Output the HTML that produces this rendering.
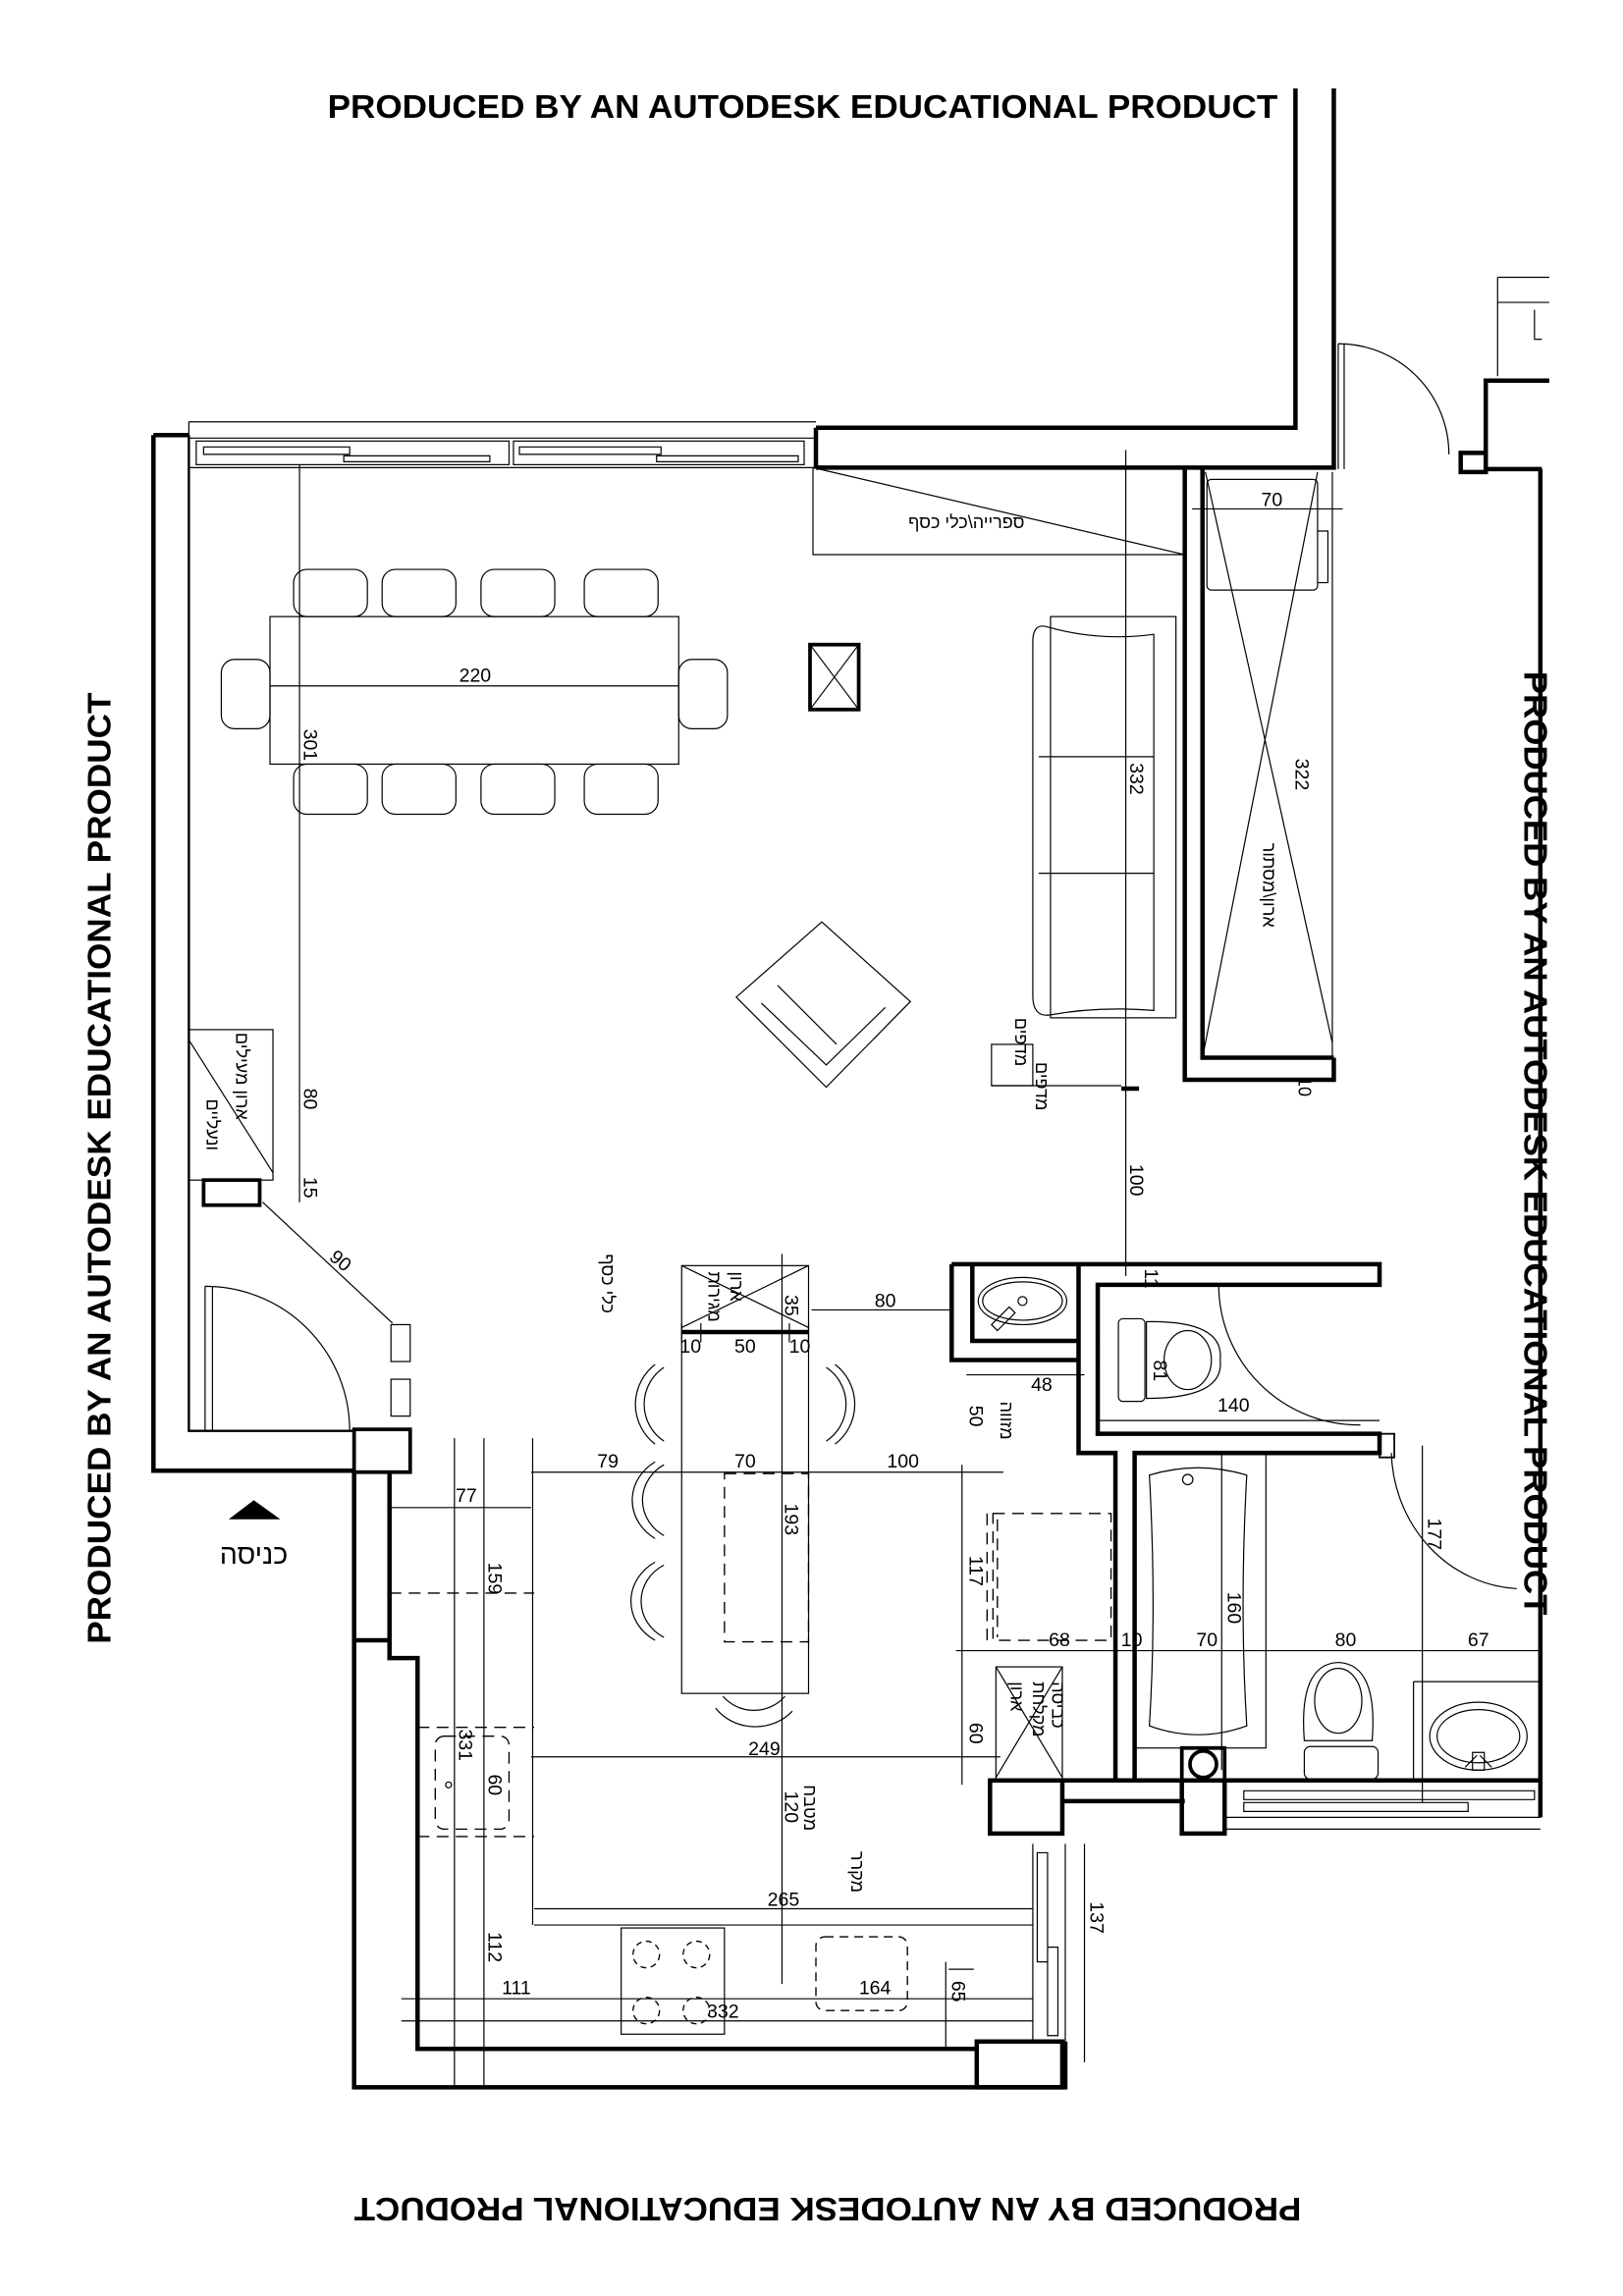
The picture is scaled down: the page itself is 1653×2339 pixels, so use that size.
<!DOCTYPE html>
<html><head><meta charset="utf-8"><style>
html,body{margin:0;padding:0;background:#fff}
svg{display:block}
text{font-family:"Liberation Sans","Noto Sans CJK JP",sans-serif;fill:#000}
.t{fill:none;stroke:#000;stroke-width:.8}
.k{fill:none;stroke:#000;stroke-width:3}
.m{fill:none;stroke:#000;stroke-width:1.6}
.d{fill:none;stroke:#000;stroke-width:.9;stroke-dasharray:8 5}
.n{font-size:13px}
.h{font-size:12px}
.b{font-size:22px;font-weight:bold}
</style></head><body>
<svg width="1653" height="2339" viewBox="0 0 1100 1556.5" xmlns="http://www.w3.org/2000/svg">
<rect width="1100" height="1556.5" fill="#fff"/>
<text class="b" x="222" y="80" textLength="644" lengthAdjust="spacingAndGlyphs">PRODUCED BY AN AUTODESK EDUCATIONAL PRODUCT</text>
<text class="b" transform="translate(75,792) rotate(-90)" text-anchor="middle" textLength="645" lengthAdjust="spacingAndGlyphs">PRODUCED BY AN AUTODESK EDUCATIONAL PRODUCT</text>
<text class="b" transform="translate(1033,775) rotate(90)" text-anchor="middle" textLength="640" lengthAdjust="spacingAndGlyphs">PRODUCED BY AN AUTODESK EDUCATIONAL PRODUCT</text>
<text class="b" transform="translate(561,1490) rotate(180)" text-anchor="middle" textLength="642" lengthAdjust="spacingAndGlyphs">PRODUCED BY AN AUTODESK EDUCATIONAL PRODUCT</text>

<path class="k" d="M553,290 H878 V60"/>
<path class="k" d="M553,317 H904 V60"/>
<path class="k" d="M553,290 V317"/>
<path class="t" d="M907,233 V318 M911,233 V318 M907,233 A75,75 0 0 1 982,308"/>
<path class="k" d="M1050,258 H1007 V318 H1045 M990,307 H1007 V320 H990 Z"/>
<path class="t" d="M1015,188 V255 M1015,188 H1050 M1015,205 H1050 M1040,210 V230 H1045"/>
<path class="k" d="M1044,318 V1232"/>

<path class="k" d="M104,295 V997 H240"/>
<path class="k" d="M104,295 H128"/>
<path class="m" d="M128,295 V970 H240"/>
<path class="t" d="M128,286 H553 M128,297 H553 M128,286 V317 H553"/>
<rect class="t" x="133" y="299" width="212" height="16"/>
<rect class="t" x="348" y="299" width="197" height="16"/>
<path class="t" d="M138,303 H237 V308 H138 Z M233,309 H332 V313 H233 Z M352,303 H448 V308 H352 Z M445,309 H541 V313 H445 Z"/>

<path class="t" d="M551,317 L803,376 M551,317 V376 H803"/>
<text class="h" x="655" y="358" text-anchor="middle">ספרייה\כלי כסף</text>

<path class="k" d="M803,318 V732 H904 V717 M815,318 V717 H904"/>
<path class="t" d="M903,320 V717"/>
<rect class="t" x="818" y="325" width="75" height="75" rx="3"/>
<path class="t" d="M808,345 H910 M817,320 L903,707 M893,320 L815,717 M893,360 H900 V395 H893"/>
<text class="n" x="862" y="343" text-anchor="middle">70</text>
<text class="n" transform="translate(878,525) rotate(90)" text-anchor="middle">322</text>
<text class="h" transform="translate(856,600) rotate(90)" text-anchor="middle">ארון\מסתור</text>
<text class="h" transform="translate(880,730) rotate(90)">10</text>

<path class="t" d="M763,305 V865"/>
<path class="k" d="M760,738 H772"/>
<text class="n" transform="translate(766,528) rotate(90)" text-anchor="middle">332</text>
<text class="n" transform="translate(766,800) rotate(90)" text-anchor="middle">100</text>

<rect class="t" x="712" y="418" width="85" height="272"/>
<path class="t" d="M710,425 Q700,422 700,435 V675 Q700,690 712,688 Q745,682 782,685 V430 Q745,435 710,425 Z"/>
<path class="t" d="M704,513 H782 M704,592 H782"/>

<rect class="t" x="183" y="418" width="277" height="100"/>
<g class="t">
<rect x="199" y="386" width="50" height="32" rx="9"/><rect x="259" y="386" width="50" height="32" rx="9"/>
<rect x="326" y="386" width="50" height="32" rx="9"/><rect x="396" y="386" width="50" height="32" rx="9"/>
<rect x="199" y="518" width="50" height="34" rx="9"/><rect x="259" y="518" width="50" height="34" rx="9"/>
<rect x="326" y="518" width="50" height="34" rx="9"/><rect x="396" y="518" width="50" height="34" rx="9"/>
<rect x="150" y="447" width="33" height="47" rx="9"/><rect x="460" y="447" width="33" height="47" rx="9"/>
</g>
<path class="t" d="M183,465 H460 M203,315 V815"/>
<text class="n" x="322" y="462" text-anchor="middle">220</text>
<text class="n" transform="translate(206,505) rotate(90)" text-anchor="middle">301</text>
<text class="n" transform="translate(206,745) rotate(90)" text-anchor="middle">80</text>
<text class="n" transform="translate(206,805) rotate(90)" text-anchor="middle">15</text>

<rect x="549" y="437" width="33" height="44" fill="none" stroke="#000" stroke-width="2.5"/>
<path class="t" d="M549,437 L582,481 M582,437 L549,481"/>

<path class="t" d="M557,625 L617,679 L560,737 L499,676 Z M527,668 L567,708 M516,680 L560,722 L600,683"/>

<rect class="t" x="672" y="708" width="28" height="28"/>
<path class="t" d="M672,736 H760"/>
<text class="h" transform="translate(688,690) rotate(90)">מדפים</text>
<text class="h" transform="translate(702,720) rotate(90)">מדפים</text>

<rect class="t" x="128" y="698" width="57" height="102"/>
<path class="t" d="M128,705 L185,795"/>
<rect x="138" y="800" width="38" height="17" fill="none" stroke="#000" stroke-width="2.5"/>
<text class="h" transform="translate(160,700) rotate(90)">ארון מעילים</text>
<text class="h" transform="translate(140,745) rotate(90)">ונעליים</text>
<path class="t" d="M178,815 L266,897"/>
<text class="n" transform="translate(228,858) rotate(40)" text-anchor="middle">90</text>
<rect class="t" x="265" y="898" width="13" height="25"/>
<rect class="t" x="265" y="935" width="13" height="25"/>
<path class="t" d="M139,872 V970 M144,872 V970 M139,872 A98,98 0 0 1 237,970"/>
<polygon points="155,1030 190,1030 172,1017" fill="#000"/>
<text x="172" y="1060" text-anchor="middle" style="font-size:19px">כניסה</text>

<rect x="240" y="969" width="38" height="29" fill="none" stroke="#000" stroke-width="2.5"/>
<path class="k" d="M240,998 V1415 H722 V1384"/>
<path class="k" d="M264,998 V1124 H283 V1389 H662"/>
<path class="k" d="M240,1112 H264"/>
<rect x="662" y="1384" width="58" height="31" fill="none" stroke="#000" stroke-width="3"/>
<path class="t" d="M700,1250 V1384 M722,1250 V1384 M703,1256 H710 V1330 H703 Z M710,1320 H717 V1380 H710 Z"/>
<rect x="671" y="1207" width="49" height="36" fill="none" stroke="#000" stroke-width="3"/>
<path class="k" d="M720,1207 H1044 M720,1221 H803"/>
<rect x="801" y="1207" width="29" height="36" fill="none" stroke="#000" stroke-width="3"/>
<rect x="801" y="1185" width="29" height="22" fill="none" stroke="#000" stroke-width="2.5"/>
<circle cx="815.5" cy="1196" r="9" fill="none" stroke="#000" stroke-width="2.5"/>
<path class="t" d="M830,1207 V1240 H1044 M830,1232 H1044"/>
<path class="t" d="M843,1214 H1040 V1220 H843 Z M843,1222 H995 V1228 H843 Z"/>

<rect class="t" x="462" y="858" width="86" height="290"/>
<path class="t" d="M462,858 L548,900 M548,858 L462,900"/>
<path class="k" d="M462,903 H548"/>
<path class="t" d="M462,897 V910 M548,897 V910 M475,897 V910 M535,897 V910"/>
<text class="n" x="468" y="917" text-anchor="middle">10</text>
<text class="n" x="505" y="917" text-anchor="middle">50</text>
<text class="n" x="542" y="917" text-anchor="middle">10</text>
<rect class="d" x="491" y="999" width="57" height="114"/>
<g class="t">
<path d="M450,927 A30,30 0 0 0 450,977 M444,925 A34,34 0 0 0 444,979"/>
<path d="M450,993 A30,28 0 0 0 450,1041 M444,991 A34,31 0 0 0 444,1043"/>
<path d="M450,1061 A30,28 0 0 0 450,1110 M444,1059 A34,31 0 0 0 444,1112"/>
<path d="M560,927 A30,30 0 0 1 560,977 M566,925 A34,34 0 0 1 566,979"/>
<path d="M490,1150 A28,28 0 0 0 532,1150 M485,1158 A33,30 0 0 0 537,1160"/>
</g>

<path class="t" d="M360,998 H680 M550,888 H645 M530,850 V1345 M360,1191 H678 M362,1294 H700 M362,1305 H700 M272,1355 H700 M272,1370 H700 M361,975 V1305 M328,975 V1415 M308,975 V1415 M264,1022 H360 M652,993 V1210 M655,932 H735 M641,1330 V1390 M735,1250 V1398 M643,1335 H660"/>
<path class="d" d="M264,1080 H362 M283,1171 H362 M283,1245 H362"/>
<text class="n" x="412" y="995" text-anchor="middle">79</text>
<text class="n" x="505" y="995" text-anchor="middle">70</text>
<text class="n" x="612" y="995" text-anchor="middle">100</text>
<text class="n" x="600" y="886" text-anchor="middle">80</text>
<text class="n" x="316" y="1018" text-anchor="middle">77</text>
<text class="n" x="518" y="1190" text-anchor="middle">249</text>
<text class="n" x="531" y="1292" text-anchor="middle">265</text>
<text class="n" x="350" y="1352" text-anchor="middle">111</text>
<text class="n" x="490" y="1368" text-anchor="middle">332</text>
<text class="n" x="593" y="1352" text-anchor="middle">164</text>
<text class="n" transform="translate(532,885) rotate(90)" text-anchor="middle">35</text>
<text class="n" transform="translate(532,1030) rotate(90)" text-anchor="middle">193</text>
<text class="n" transform="translate(532,1225) rotate(90)" text-anchor="middle">120</text>
<text class="n" transform="translate(331,1070) rotate(90)" text-anchor="middle">159</text>
<text class="n" transform="translate(311,1183) rotate(90)" text-anchor="middle">331</text>
<text class="n" transform="translate(331,1210) rotate(90)" text-anchor="middle">60</text>
<text class="n" transform="translate(331,1320) rotate(90)" text-anchor="middle">112</text>
<text class="n" transform="translate(657,960) rotate(90)" text-anchor="middle">50</text>
<text class="n" transform="translate(657,1065) rotate(90)" text-anchor="middle">117</text>
<text class="n" transform="translate(657,1175) rotate(90)" text-anchor="middle">60</text>
<text class="n" transform="translate(645,1350) rotate(90)" text-anchor="middle">65</text>
<text class="n" transform="translate(739,1300) rotate(90)" text-anchor="middle">137</text>
<text class="n" x="706" y="943" text-anchor="middle">48</text>
<rect class="d" x="295" y="1177" width="50" height="63" rx="6"/>
<circle class="t" cx="304" cy="1210" r="2"/>
<rect class="t" x="421" y="1307" width="70" height="72"/>
<g class="d" style="stroke-dasharray:4 3"><circle cx="438" cy="1325" r="9"/><circle cx="472" cy="1325" r="9"/><circle cx="438" cy="1363" r="9"/><circle cx="472" cy="1363" r="9"/></g>
<rect class="d" x="553" y="1313" width="62" height="50" rx="6" style="stroke-dasharray:6 4"/>
<rect class="d" x="673" y="1026" width="80" height="86"/>
<path class="d" d="M669,1026 V1112 M676,1030 V1110"/>
<rect class="t" x="675" y="1130" width="45" height="77"/>
<path class="t" d="M675,1130 L720,1205 M720,1130 L675,1205"/>
<text class="h" transform="translate(408,850) rotate(90)">כלי כסף</text>
<text class="h" transform="translate(480,862) rotate(90)">מגירות</text>
<text class="h" transform="translate(495,862) rotate(90)">ארון</text>
<text class="h" transform="translate(678,950) rotate(90)">מזווה</text>
<text class="h" transform="translate(545,1210) rotate(90)">מטבח</text>
<text class="h" transform="translate(577,1255) rotate(90)">מקרר</text>
<text class="h" transform="translate(685,1140) rotate(90)">ארון</text>
<text class="h" transform="translate(700,1140) rotate(90)">מקלחת</text>
<text class="h" transform="translate(713,1140) rotate(90)">כביסה</text>

<path class="k" d="M645,857 H935 V871 H744 V972 H935 V985 H769 V1207 M645,857 V922 H731 V857 M731,922 V985 H756 V1207 M659,857 V909 H731"/>
<rect x="935" y="972" width="10" height="16" fill="none" stroke="#000" stroke-width="1.2"/>
<ellipse class="t" cx="693" cy="882" rx="30" ry="16"/>
<ellipse class="t" cx="693" cy="882" rx="27" ry="13"/>
<circle class="t" cx="693" cy="882" r="3"/>
<path class="t" d="M672,898 L684,886 L688,890 L676,902 Z"/>
<rect class="t" x="758" y="894" width="18" height="56" rx="3"/>
<path class="t" d="M777,896 Q830,895 827,922 Q830,948 777,948 Z"/>
<ellipse class="t" cx="805" cy="922" rx="16" ry="20"/>
<path class="t" d="M826,871 A95,95 0 0 0 922,966"/>
<path class="t" d="M744,963 H935"/>
<text class="n" x="836" y="957" text-anchor="middle">140</text>
<text class="n" transform="translate(782,922) rotate(90)">81</text>
<text class="n" transform="translate(776,860) rotate(90)">11</text>
<rect class="t" x="769" y="985" width="89" height="200"/>
<path class="t" d="M779,1000 Q812,990 845,1000 Q840,1090 845,1170 Q812,1182 779,1170 Q784,1090 779,1000 Z"/>
<circle class="t" cx="805" cy="1003" r="3.5"/>
<path class="t" d="M828,985 V1200"/>
<text class="n" transform="translate(832,1090) rotate(90)" text-anchor="middle">160</text>
<path class="t" d="M943,985 A90,95 0 0 0 1028,1077"/>
<path class="t" d="M648,1119 H1044 M964,980 V1222 M958,1140 H1044 M958,1140 V1207"/>
<text class="n" transform="translate(968,1040) rotate(90)" text-anchor="middle">177</text>
<text class="n" x="718" y="1116" text-anchor="middle">68</text>
<text class="n" x="767" y="1116" text-anchor="middle">10</text>
<text class="n" x="818" y="1116" text-anchor="middle">70</text>
<text class="n" x="912" y="1116" text-anchor="middle">80</text>
<text class="n" x="1002" y="1116" text-anchor="middle">67</text>
<path class="t" d="M884,1180 Q880,1128 907,1127 Q934,1128 930,1180 Z"/>
<ellipse class="t" cx="907" cy="1153" rx="16" ry="22"/>
<rect class="t" x="884" y="1184" width="50" height="22" rx="4"/>
<ellipse class="t" cx="1002" cy="1177" rx="33" ry="23"/>
<ellipse class="t" cx="1002" cy="1177" rx="28" ry="18"/>
<path class="t" d="M998,1188 H1006 V1200 H998 Z M993,1198 L1001,1190 M1011,1198 L1003,1190"/>
</svg>
</body></html>
